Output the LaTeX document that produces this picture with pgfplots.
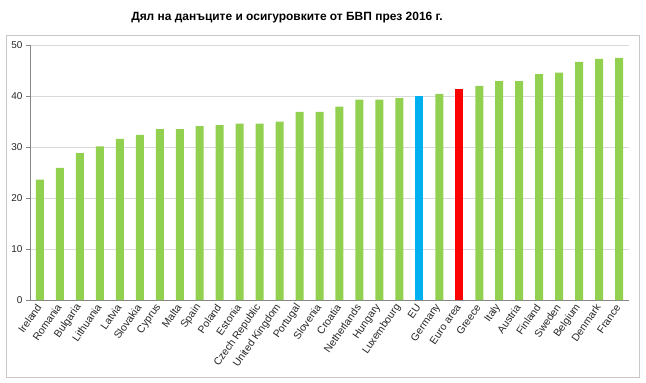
\documentclass[border=0pt]{standalone}
\usepackage{pgfplots}
\pgfplotsset{compat=1.18}
\usepackage{fontspec}
\setmainfont{Liberation Sans}
\definecolor{bargreen}{HTML}{92D050}
\definecolor{barblue}{HTML}{00B0F0}
\definecolor{barred}{HTML}{FF0000}
\definecolor{gridgray}{HTML}{D9D9D9}
\definecolor{axisgray}{HTML}{868686}
\definecolor{framegray}{HTML}{C8C8C8}
\begin{document}
\begin{tikzpicture}[x=1bp,y=1bp]
\useasboundingbox (0,0) rectangle (646,382);
\draw[framegray, line width=1bp] (6,5) rectangle (639,347);
\node[font=\bfseries\fontsize{12}{14}\selectfont, anchor=center] at (287,364) {Дял на данъците и осигуровките от БВП през 2016 г.};
\begin{axis}[
  at={(30bp,82bp)}, anchor=south west,
  scale only axis, width=599bp, height=255bp,
  xmin=-0.5, xmax=29.5, ymin=0, ymax=50,
  axis x line*=bottom, axis y line*=left,
  axis line style={axisgray, line width=0.8bp},
  ytick={0,10,20,30,40,50},
  ymajorgrids, grid style={gridgray, line width=0.8bp},
  tick align=outside,
  major tick length=4bp, minor tick length=4bp,
  tick style={axisgray, line width=0.8bp},
  xtick={0,...,29},
  x tick style={draw=none},
  minor xtick={-0.5,0.5,...,29.5},
  minor x tick style={axisgray, line width=0.8bp},
  xticklabels={Ireland,Romania,Bulgaria,Lithuania,Latvia,Slovakia,Cyprus,Malta,Spain,Poland,Estonia,Czech Republic,United Kingdom,Portugal,Slovenia,Croatia,Netherlands,Hungary,Luxembourg,EU,Germany,Euro area,Greece,Italy,Austria,Finland,Sweden,Belgium,Denmark,France},
  xticklabel style={rotate=55, anchor=east, font=\fontsize{10.5}{12}\selectfont, text=black!85, inner sep=1.5bp},
  yticklabel style={font=\fontsize{10}{12}\selectfont, text=black!85},
  /pgf/number format/assume math mode=true,
  ybar, bar width=8bp,
]
\addplot[fill=bargreen, draw=none, bar shift=0pt] coordinates {
(0,23.6) (1,25.9) (2,28.8) (3,30.1) (4,31.6) (5,32.4) (6,33.5) (7,33.5) (8,34.1) (9,34.3)
(10,34.6) (11,34.6) (12,35.0) (13,36.9) (14,36.9) (15,37.9) (16,39.3) (17,39.3) (18,39.6)
(20,40.4) (22,42.0) (23,42.9) (24,42.9) (25,44.3) (26,44.6) (27,46.7) (28,47.3) (29,47.5)
};
\addplot[fill=barblue, draw=none, bar shift=0pt] coordinates {(19,40.0)};
\addplot[fill=barred, draw=none, bar shift=0pt] coordinates {(21,41.3)};
\end{axis}
\end{tikzpicture}
\end{document}
